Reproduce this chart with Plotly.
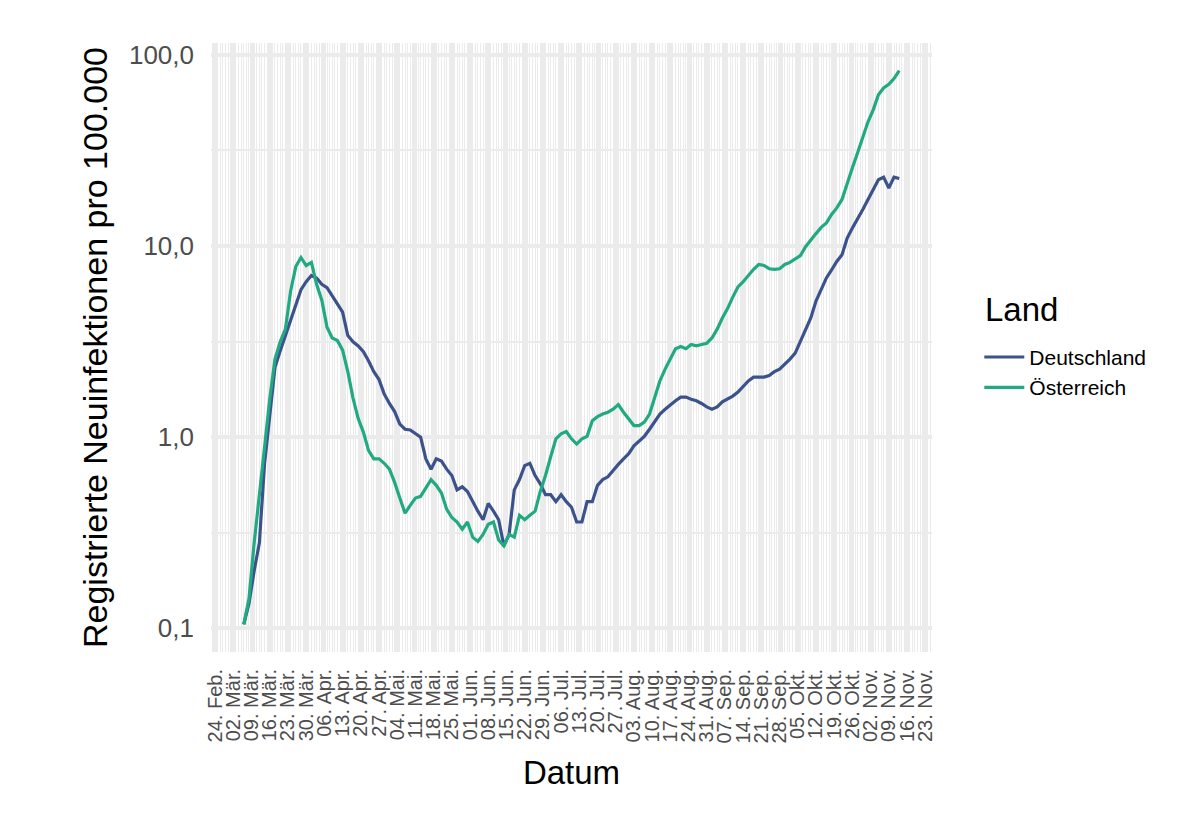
import math
import pandas as pd
import plotly.graph_objects as go

# ---------------- data ----------------
start_date = "2020-03-06"
end_date = "2020-11-13"
dates = pd.date_range(start_date, end_date, freq="2D")

deutschland = [
    0.105, 0.135, 0.20, 0.28, 0.73, 1.32, 2.32, 2.82, 3.4, 4.1,
    4.9, 5.9, 6.5, 7.0, 6.8, 6.3, 6.05, 5.5, 4.95, 4.5,
    3.4, 3.15, 3.0, 2.8, 2.5, 2.2, 2.0, 1.68, 1.5, 1.36,
    1.17, 1.1, 1.09, 1.04, 1.0, 0.77, 0.68, 0.77, 0.75, 0.68,
    0.63, 0.53, 0.55, 0.52, 0.46, 0.41, 0.37, 0.45, 0.41, 0.37,
    0.27, 0.31, 0.53, 0.6, 0.71, 0.73, 0.63, 0.57, 0.5, 0.5,
    0.46, 0.5, 0.46, 0.43, 0.36, 0.36, 0.46, 0.46, 0.56, 0.6,
    0.62, 0.67, 0.72, 0.77, 0.82, 0.9, 0.96, 1.01, 1.1, 1.2,
    1.32, 1.4, 1.48, 1.55, 1.62, 1.62, 1.58, 1.55, 1.5, 1.44,
    1.4, 1.44, 1.53, 1.58, 1.64, 1.72, 1.83, 1.97, 2.06, 2.06,
    2.06, 2.1, 2.2, 2.27, 2.4, 2.56, 2.75, 3.15, 3.67, 4.2,
    5.15, 5.9, 6.8, 7.5, 8.3, 9.0, 11.0, 12.4, 13.8, 15.5,
    17.5, 19.7, 22.2, 22.9, 20.1, 22.9, 22.5,
]

oesterreich = [
    0.105, 0.143, 0.28, 0.5, 0.92, 1.59, 2.56, 3.15, 3.67, 5.8,
    7.8, 8.7, 7.9, 8.2, 6.3, 5.2, 3.76, 3.3, 3.2, 2.85,
    2.2, 1.6, 1.25, 1.06, 0.85, 0.77, 0.77, 0.73, 0.68, 0.58,
    0.48, 0.40, 0.44, 0.48, 0.49, 0.54, 0.6, 0.56, 0.51, 0.42,
    0.38, 0.36, 0.33, 0.36, 0.3, 0.285, 0.31, 0.35, 0.36, 0.29,
    0.27, 0.31, 0.3, 0.39, 0.37, 0.39, 0.41, 0.52, 0.63, 0.79,
    0.98, 1.04, 1.07, 0.98, 0.92, 0.98, 1.01, 1.22, 1.28, 1.32,
    1.35, 1.4, 1.48, 1.35, 1.25, 1.15, 1.15, 1.2, 1.32, 1.59,
    1.97, 2.27, 2.56, 2.9, 2.98, 2.9, 3.05, 3.0, 3.05, 3.1,
    3.3, 3.67, 4.2, 4.7, 5.4, 6.1, 6.5, 7.0, 7.55, 8.0,
    7.9, 7.6, 7.55, 7.6, 8.0, 8.2, 8.5, 8.9, 9.9, 10.8,
    11.6, 12.5, 13.2, 14.6, 15.8, 17.5, 21.5, 25.6, 30.7, 37.2,
    44.6, 51.5, 61.8, 67.0, 70.0, 75.0, 82.5,
]

laender = ["Deutschland", "Österreich"]
farben = ["#3B528B", "#21A982"]
legend_titel = "Land"

tick_dates = pd.date_range("2020-02-24", "2020-11-23", freq="7D")
monate = {2: "Feb.", 3: "Mär.", 4: "Apr.", 5: "Mai.", 6: "Jun.", 7: "Jul.",
          8: "Aug.", 9: "Sep.", 10: "Okt.", 11: "Nov."}
tick_text = [f"{d.day:02d}. {monate[d.month]}" for d in tick_dates]

y_ticks = [0.1, 1, 10, 100]
y_ticktext = ["0,1", "1,0", "10,0", "100,0"]
y_minor = [10 ** -0.5, 10 ** 0.5, 10 ** 1.5]

assert len(dates) == len(deutschland) == len(oesterreich)

# ---------------- figure ----------------
fig = go.Figure()
for name, vals, col in zip(laender, [deutschland, oesterreich], farben):
    fig.add_trace(go.Scatter(x=dates, y=vals, mode="lines", name=name,
                             legendgroup=name,
                             line=dict(color=col, width=3.2)))

span = dates[-1] - dates[0]
x_range = [dates[0] - 0.05 * span, dates[-1] + 0.05 * span]

ymin = math.log10(min(min(deutschland), min(oesterreich)))
ymax = math.log10(max(max(deutschland), max(oesterreich)))
yspan = ymax - ymin
y_range = [ymin - 0.05 * yspan, ymax + 0.05 * yspan]

grid = "#EBEBEB"
font_family = "Liberation Sans, Arial, Helvetica, sans-serif"

fig.add_annotation(
    text=legend_titel, xref="paper", yref="paper",
    x=1.0707, y=0.5616, xanchor="left", yanchor="middle",
    showarrow=False, font=dict(size=33, color="black"),
)

fig.update_layout(
    width=1200, height=826,
    margin=dict(l=203, r=276, t=35, b=182),
    paper_bgcolor="white", plot_bgcolor="white",
    font=dict(family=font_family, color="black"),
    showlegend=True,
    legend=dict(
        font=dict(size=21, color="black"),
        x=1.0656, xanchor="left", y=0.5175, yanchor="top",
        bgcolor="rgba(0,0,0,0)", traceorder="grouped", tracegroupgap=0,
        itemwidth=40,
    ),
    xaxis=dict(
        type="date", range=x_range, automargin=False,
        tickmode="array", tickvals=tick_dates, ticktext=tick_text,
        tickangle=-90, tickfont=dict(size=20, color="#4D4D4D"),
        ticks="", ticklabelstandoff=12,
        showgrid=True, gridcolor=grid, gridwidth=4,
        minor=dict(dtick=86400000, tick0="2020-02-24", showgrid=True,
                   gridcolor=grid, gridwidth=1, ticks=""),
        zeroline=False, showline=False,
        title=dict(text="Datum", font=dict(size=33, color="black"), standoff=18),
    ),
    yaxis=dict(
        type="log", range=y_range, automargin=False,
        tickmode="array", tickvals=y_ticks, ticktext=y_ticktext,
        tickfont=dict(size=26, color="#4D4D4D"),
        ticks="", ticklabelstandoff=16,
        showgrid=True, gridcolor=grid, gridwidth=4,
        minor=dict(tickmode="array", tickvals=y_minor, showgrid=True,
                   gridcolor=grid, gridwidth=2, ticks=""),
        zeroline=False, showline=False,
        title=dict(text="Registrierte Neuinfektionen pro 100.000",
                   font=dict(size=34, color="black"), standoff=11),
    ),
)

fig.write_html("out.html")
